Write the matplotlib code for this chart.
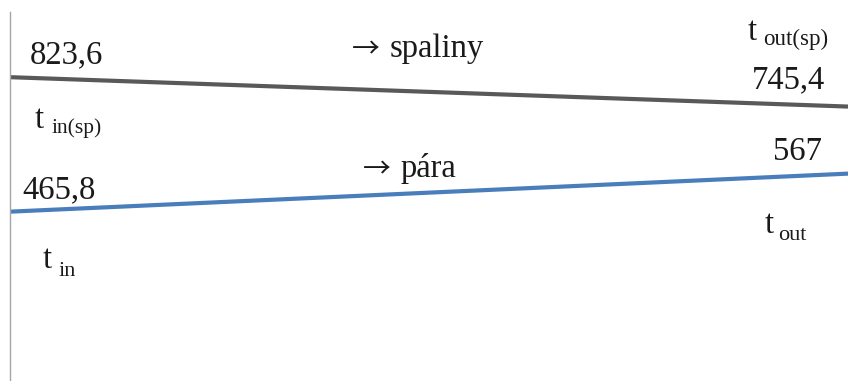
import matplotlib
matplotlib.use('Agg')
import matplotlib.pyplot as plt

plt.rcParams['font.family'] = ['Liberation Serif', 'DejaVu Serif']

# data
pos = [0, 1]
spaliny = [823.6, 745.4]   # t_in(sp) -> t_out(sp)
para = [465.8, 567]        # t_in -> t_out
names = ['spaliny', 'pára']

W, H = 848, 381
fig = plt.figure(figsize=(W / 100, H / 100), dpi=100)
ax = fig.add_axes([10 / W, 0, 838 / W, (H - 12) / H])
ax.plot(pos, spaliny, color='#595959', lw=3.0, solid_capstyle='butt')
ax.plot(pos, para, color='#4a7ebb', lw=3.0, solid_capstyle='butt')
ax.set_xlim(0, 1)
ax.set_ylim(15.3, 997)
for s in ['top', 'right', 'bottom']:
    ax.spines[s].set_visible(False)
ax.spines['left'].set_color('#a6a6a6')
ax.spines['left'].set_linewidth(1.0)
ax.set_xticks([])
ax.set_yticks([])

TXT = '#1a1a1a'


def px(x, y, s, size=23.5, **kw):
    fig.text(x / W, 1 - y / H, s, fontsize=size, ha='left', va='baseline',
             color=TXT, **kw)


def fmt(v):
    return f'{v:g}'.replace('.', ',')


# values
px(30, 63, fmt(spaliny[0]))
px(752, 88, fmt(spaliny[1]))
px(22, 198, fmt(para[0]))
px(773, 160, fmt(para[1]))

# names with arrow
px(352, 57, '→', 20, family='Noto Sans CJK JP')
px(390, 57, names[0])
px(363, 177, '→', 20, family='Noto Sans CJK JP')
px(401, 177, names[1])

# t labels with subscripts
px(35, 128, 't')
px(52, 133, 'in(sp)', 15.5)
px(748, 40, 't')
px(763, 45, 'out(sp)', 16.5)
px(43, 268, 't')
px(59, 276, 'in', 16)
px(765, 233, 't')
px(778, 240, 'out', 16)

fig.savefig('out.png', dpi=100)
